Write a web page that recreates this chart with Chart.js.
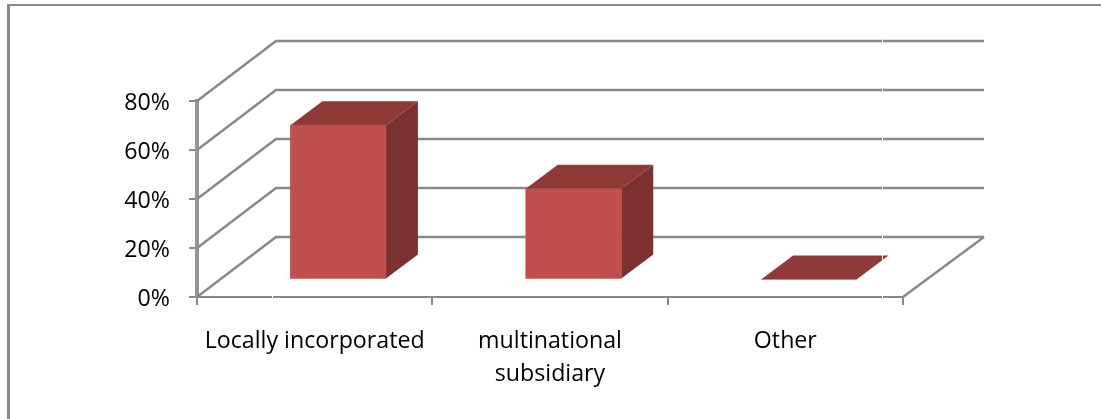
<!DOCTYPE html>
<html>
<head>
<meta charset="utf-8">
<title>Company type</title>
<script src="https://cdn.jsdelivr.net/npm/chart.js@4/dist/chart.umd.min.js"></script>
<style>
  html, body { margin: 0; padding: 0; background: #fff; }
  #wrap { position: relative; width: 1101px; height: 419px; overflow: hidden; }
  #frame { position: absolute; left: 7px; top: 4px; right: 0; bottom: 0; border-top: 2px solid #8a8a8a; border-left: 3px solid #8a8a8a; }
  canvas { position: absolute; left: 0; top: 0; }
</style>
</head>
<body>
<div id="wrap">
  <div id="frame"></div>
  <canvas id="companyChart" width="1101" height="419"></canvas>
</div>
<script>
'use strict';

// ===== DATA =====
const categories = ['Locally incorporated', ['multinational', 'subsidiary'], 'Other'];
const shares = [63, 37, 0];
const yTicks = [0, 20, 40, 60, 80];

// ===== 3D LOOK =====
const LINE = '#888888';
const FRONT = '#c0504d';
const TOP = '#8f3a38';
const SIDE = '#7b3130';
const WALL_DX = 79, WALL_DY = -60;   // floor depth
const BAR_DX = 23.5, BAR_DY = -17.5; // bar sits part way back on the floor
const CAP_DX = 32, CAP_DY = -24;     // depth of a bar

function poly(ctx, pts, fill) {
  ctx.beginPath();
  pts.forEach(([x, y], i) => i ? ctx.lineTo(x, y) : ctx.moveTo(x, y));
  ctx.closePath();
  ctx.fillStyle = fill;
  ctx.fill();
}

function line(ctx, x1, y1, x2, y2) {
  ctx.beginPath();
  ctx.moveTo(x1, y1);
  ctx.lineTo(x2, y2);
  ctx.stroke();
}

const box3d = {
  id: 'box3d',
  // side walls, back wall and floor edge
  beforeDatasetsDraw(chart) {
    const { ctx, chartArea: area, scales: { y } } = chart;
    ctx.save();
    ctx.strokeStyle = LINE;
    ctx.lineWidth = 2.4;
    yTicks.forEach(t => {
      const py = y.getPixelForValue(t);
      line(ctx, area.left, py, area.left + WALL_DX, py + WALL_DY);
      line(ctx, area.left + WALL_DX - 1, py + WALL_DY, area.right + WALL_DX + 2, py + WALL_DY);
    });
    line(ctx, area.right, area.bottom, area.right + WALL_DX + 2, area.bottom + WALL_DY);
    ctx.restore();
  },
  // the library draws the front of each bar, shifted back, and the faces go on around it
  beforeDatasetDraw(chart, args) {
    const { ctx } = chart;
    ctx.save();
    ctx.translate(BAR_DX, BAR_DY);
    chart.getDatasetMeta(args.index).data.forEach(bar => {
      const { x, y, base, width } = bar.getProps(['x', 'y', 'base', 'width'], true);
      const l = x - width / 2, r = x + width / 2;
      poly(ctx, [[l, y], [r, y], [r + CAP_DX, y + CAP_DY], [l + CAP_DX, y + CAP_DY]], TOP);
      if (base > y) {
        poly(ctx, [[r, y], [r + CAP_DX, y + CAP_DY], [r + CAP_DX, base + CAP_DY], [r, base]], SIDE);
      }
    });
  },
  afterDatasetDraw(chart) {
    chart.ctx.restore();
  },
  // thin light seams that cut across the rules
  afterDatasetsDraw(chart) {
    const { ctx, chartArea: area } = chart;
    ctx.save();
    ctx.fillStyle = '#fff';
    ctx.fillRect(882, area.top + WALL_DY - 5, 1, area.bottom - area.top - WALL_DY + 10);
    ctx.fillRect(272, area.bottom - 3, 1, 6);
    ctx.restore();
  }
};

new Chart(document.getElementById('companyChart'), {
  type: 'bar',
  data: {
    labels: categories,
    datasets: [{
      data: shares,
      backgroundColor: FRONT,
      borderWidth: 0,
      barThickness: 95.5
    }]
  },
  options: {
    responsive: false,
    animation: false,
    layout: { padding: { top: 101, right: 198, bottom: 0, left: 0 } },
    plugins: { legend: { display: false }, tooltip: { enabled: false } },
    scales: {
      x: {
        afterFit(scale) { scale.height = 122; },
        grid: { drawOnChartArea: false, color: LINE, lineWidth: 2, tickLength: 8 },
        border: { color: LINE, width: 2 },
        ticks: {
          color: '#000',
          maxRotation: 0,
          autoSkip: false,
          padding: 20,
          font: { family: 'Open Sans', size: 23.2, lineHeight: 1.42 }
        }
      },
      y: {
        min: 0,
        max: 80,
        afterFit(scale) { scale.width = 197; },
        grid: { drawOnChartArea: false, color: LINE, lineWidth: 2, tickLength: 8 },
        border: { color: '#949494', width: 4 },
        ticks: {
          color: '#000',
          stepSize: 20,
          padding: 19,
          labelOffset: 2,
          font: { family: 'Open Sans', size: 23.2 },
          callback: v => v + '%'
        }
      }
    }
  },
  plugins: [box3d]
});
</script>
</body>
</html>
